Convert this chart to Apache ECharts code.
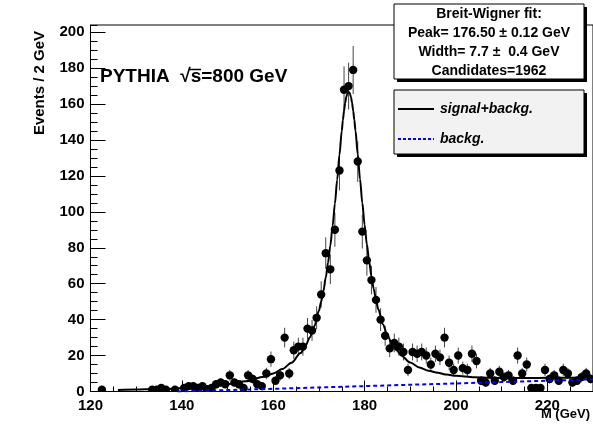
<!DOCTYPE html>
<html>
<head>
<meta charset="utf-8">
<script src="https://cdn.jsdelivr.net/npm/echarts@6/dist/echarts.min.js"></script>
<style>
html,body{margin:0;padding:0;background:#fff;}
#chart{width:593px;height:430px;}
</style>
</head>
<body>
<div id="chart"></div>
<script>
// ---- data ----
var binCenters = [120.5,121.5,122.5,123.5,124.5,125.5,126.5,127.5,128.5,129.5,
  130.5,131.5,132.5,133.5,134.5,135.5,136.5,137.5,138.5,139.5,
  140.5,141.5,142.5,143.5,144.5,145.5,146.5,147.5,148.5,149.5,
  150.5,151.5,152.5,153.5,154.5,155.5,156.5,157.5,158.5,159.5,
  160.5,161.5,162.5,163.5,164.5,165.5,166.5,167.5,168.5,169.5,
  170.5,171.5,172.5,173.5,174.5,175.5,176.5,177.5,178.5,179.5,
  180.5,181.5,182.5,183.5,184.5,185.5,186.5,187.5,188.5,189.5,
  190.5,191.5,192.5,193.5,194.5,195.5,196.5,197.5,198.5,199.5,
  200.5,201.5,202.5,203.5,204.5,205.5,206.5,207.5,208.5,209.5,
  210.5,211.5,212.5,213.5,214.5,215.5,216.5,217.5,218.5,219.5,
  220.5,221.5,222.5,223.5,224.5,225.5,226.5,227.5,228.5,229.5];
var counts = [0,0,1,0,0,0,0,0,0,0,
  0,0,0,1,1,2,1,0,1,0,
  2,3,3,2,3,1,2,4,5,4,
  9,5,4,2,9,7,4,3,10,18,
  6,9,30,10,23,25,25,35,34,41,
  54,77,68,90,123,168,170,179,128,89,
  73,62,51,40,31,24,27,25,22,12,
  22,21,22,20,15,21,19,30,16,12,
  20,13,12,21,17,6,5,10,6,11,
  8,9,6,20,10,15,2,2,2,12,
  7,9,6,12,10,5,6,8,10,7];

// signal+background curve
var fitMass = [126,130,134,138,142,146,150,154,158,160,162,164,166,167,168,169,
  170,170.5,171,171.5,172,172.5,173,173.5,174,174.5,175,175.25,175.5,175.75,176,176.25,176.5,
  176.75,177,177.25,177.5,177.75,178,178.5,179,179.5,180,180.5,181,181.5,182,182.5,183,
  184,185,186,187,188,190,192,194,196,198,200,204,208,212,216,220,225,230];
var fitValue = [0.9,1.1,1.3,1.6,2.2,3.0,4.1,5.7,8.2,10.0,12.5,16.0,21.4,25.1,30.0,36.4,
  44.9,50.1,56.2,63.4,71.7,81.3,92.3,104.5,117.9,131.8,145.0,151.0,156.3,160.7,164.0,166.0,166.7,
  166.0,164.1,160.8,156.4,151.2,145.3,132.1,118.3,105.0,92.8,81.9,72.4,64.1,57.1,51.0,45.8,
  37.5,31.3,26.6,23.0,20.1,16.1,13.4,11.6,10.4,9.4,8.8,8.0,7.6,7.5,7.5,7.6,7.7,7.9];

// background curve
var bgMass = [139,150,160,170,180,190,200,210,220,230];
var bgValue = [0,0.8,1.5,2.25,3.0,3.75,4.5,5.25,6.0,6.8];

var xTicks = [120,140,160,180,200,220];
var yTicks = [0,20,40,60,80,100,120,140,160,180,200];

var statLines = ['Breit-Wigner fit:','Peak= 176.50 \u00b1 0.12 GeV','Width= 7.7 \u00b1  0.4 GeV','Candidates=1962'];
var legendNames = ['signal+backg.','backg.'];

// ---- build ----
var FONT = "'Liberation Sans', Arial, Helvetica, sans-serif";
var points = [];
for (var i = 0; i < binCenters.length; i++) {
  if (counts[i] > 0) points.push([binCenters[i], counts[i]]);
}
var fitData = fitMass.map(function(m, i){ return [m, fitValue[i]]; });
var bgData = bgMass.map(function(m, i){ return [m, bgValue[i]]; });

var chart = echarts.init(document.getElementById('chart'), null, {renderer:'canvas'});

var labelStyle = {color:'#000', fontFamily:FONT, fontWeight:'bold', fontSize:15};

function statText(i, y) {
  return {type:'text', x:489, y:y, z:12,
    style:{text:statLines[i], fill:'#000', font:'bold 14px ' + FONT, textAlign:'center', textVerticalAlign:'middle'}};
}

var option = {
  animation:false,
  backgroundColor:'#fff',
  grid:{left:90.5, right:0, top:25, bottom:38.5, show:true, borderColor:'#000', borderWidth:1, backgroundColor:'transparent'},
  xAxis:[{
    type:'value', min:120, max:230, interval:20,
    axisLine:{show:true, lineStyle:{color:'#000', width:1}},
    axisTick:{show:true, inside:true, length:11, lineStyle:{color:'#000'}},
    axisLabel:Object.assign({margin:7, showMaxLabel:false,
      formatter:function(v){ return xTicks.indexOf(v) >= 0 ? String(v) : ''; }}, labelStyle),
    splitLine:{show:false}
  },{
    type:'value', min:120, max:230, interval:5, position:'bottom',
    axisLine:{show:false},
    axisTick:{show:true, inside:true, length:5, lineStyle:{color:'#000'}},
    axisLabel:{show:false}, splitLine:{show:false}
  }],
  yAxis:[{
    type:'value', min:0, max:204, interval:20,
    axisLine:{show:true, lineStyle:{color:'#000', width:1}},
    axisTick:{show:true, inside:true, length:15, lineStyle:{color:'#000'}},
    axisLabel:Object.assign({margin:6, showMaxLabel:false,
      formatter:function(v){ return yTicks.indexOf(v) >= 0 ? String(v) : ''; }}, labelStyle),
    splitLine:{show:false}
  },{
    type:'value', min:0, max:204, interval:5, position:'left',
    axisLine:{show:false},
    axisTick:{show:true, inside:true, length:7, lineStyle:{color:'#000'}},
    axisLabel:{show:false}, splitLine:{show:false}
  }],
  series:[{
    type:'custom', xAxisIndex:0, yAxisIndex:0, clip:true,
    data:points,
    renderItem:function(params, api){
      var x = api.value(0), y = api.value(1);
      var p = api.coord([x, y]);
      var e = Math.sqrt(y);
      var t = api.coord([x, y + e]);
      var b = api.coord([x, Math.max(0, y - e)]);
      return {type:'group', children:[
        {type:'line', shape:{x1:p[0], y1:t[1], x2:p[0], y2:b[1]}, style:{stroke:'#444', lineWidth:1}},
        {type:'circle', shape:{cx:p[0], cy:p[1], r:4.2}, style:{fill:'#000'}}
      ]};
    }
  },{
    type:'line', data:bgData, showSymbol:false, symbol:'none',
    lineStyle:{color:'#0000ff', width:2, type:[4,3]}, z:3
  },{
    type:'line', data:fitData, showSymbol:false, symbol:'none',
    smooth:0.3, smoothMonotone:'x',
    lineStyle:{color:'#000', width:2}, z:4
  }],
  graphic:[
    {type:'text', left:100, top:67, style:{text:'PYTHIA  \u221As=800 GeV', fill:'#000', font:'bold 19px ' + FONT}},
    {type:'line', shape:{x1:189, y1:69.5, x2:201, y2:69.5}, style:{stroke:'#000', lineWidth:1.5}},
    {type:'text', x:40, y:83, rotation:Math.PI/2, style:{text:'Events / 2 GeV', fill:'#000', font:'bold 15px ' + FONT, textAlign:'center', textVerticalAlign:'middle'}},
    {type:'text', x:590, y:414, style:{text:'M (GeV)', fill:'#000', font:'bold 13px ' + FONT, textAlign:'right', textVerticalAlign:'middle'}},
    // stats box
    {type:'rect', shape:{x:397, y:7, width:190, height:75}, style:{fill:'#000'}, z:10},
    {type:'rect', shape:{x:394, y:4, width:190, height:75}, style:{fill:'#fff', stroke:'#000', lineWidth:1}, z:11},
    statText(0, 14), statText(1, 33), statText(2, 52), statText(3, 71),
    // legend box
    {type:'rect', shape:{x:397, y:93, width:190, height:64}, style:{fill:'#000'}, z:10},
    {type:'rect', shape:{x:394, y:90, width:190, height:64}, style:{fill:'#f2f2f2', stroke:'#000', lineWidth:1}, z:11},
    {type:'line', shape:{x1:398, y1:109, x2:434, y2:109}, style:{stroke:'#000', lineWidth:2}, z:12},
    {type:'text', x:440, y:109, style:{text:legendNames[0], fill:'#000', font:'italic bold 14px ' + FONT, textVerticalAlign:'middle'}, z:12},
    {type:'line', shape:{x1:398, y1:139, x2:434, y2:139}, style:{stroke:'#0000ff', lineWidth:2, lineDash:[3,2]}, z:12},
    {type:'text', x:440, y:139, style:{text:legendNames[1], fill:'#000', font:'italic bold 14px ' + FONT, textVerticalAlign:'middle'}, z:12}
  ]
};
chart.setOption(option);
</script>
</body>
</html>
